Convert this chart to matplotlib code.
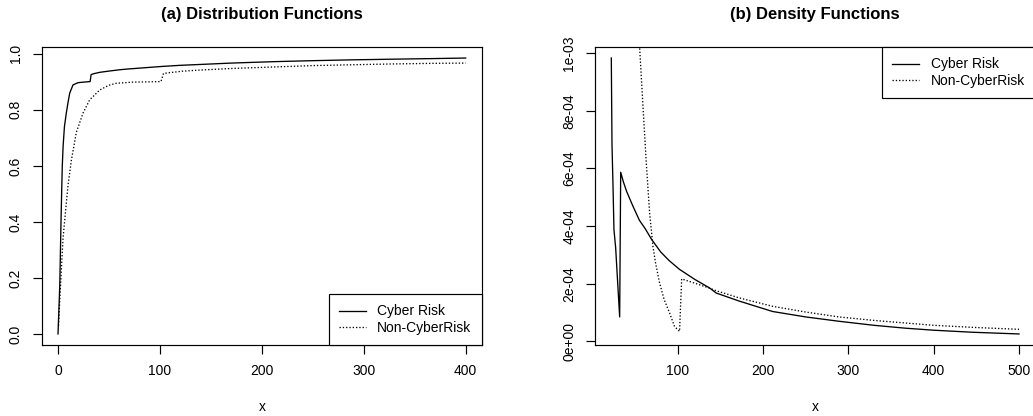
import matplotlib
matplotlib.use('Agg')
import matplotlib.pyplot as plt
from matplotlib.lines import Line2D

plt.rcParams['font.family'] = ['Liberation Sans', 'DejaVu Sans']

# ---------------- data ----------------
series_names = ["Cyber Risk", "Non-CyberRisk"]

# (a) distribution functions
cdf_cyber_x = [0, 0.5, 1.0, 1.7, 2.3, 3.0, 3.6, 4.2, 5.0, 6.3, 8.2, 10.0, 11.5, 14.7,
               19.6, 25.0, 31.5, 32.5, 35.0, 41.0, 47.0, 60.0, 69.0, 80.0, 102.0,
               120.0, 139.0, 170.0, 211.0, 250.0, 289.0, 330.0, 367.0, 400.0]
cdf_cyber_y = [0.0, 0.05, 0.10, 0.17, 0.28, 0.41, 0.51, 0.60, 0.67, 0.74, 0.79, 0.83,
               0.86, 0.889, 0.897, 0.899, 0.901, 0.926, 0.929, 0.934, 0.937, 0.943,
               0.946, 0.949, 0.955, 0.959, 0.962, 0.967, 0.972, 0.9756, 0.9786,
               0.981, 0.983, 0.985]

cdf_noncyber_x = [0.5, 1.7, 3.3, 4.9, 7.2, 9.8, 13.1, 18.0, 24.5, 31.1, 40.9, 50.0,
                  57.3, 73.5, 90.0, 101.0, 103.5, 110.0, 122.0, 139.0, 172.0, 211.0,
                  250.0, 289.0, 330.0, 367.0, 400.0]
cdf_noncyber_y = [0.03, 0.12, 0.23, 0.34, 0.43, 0.53, 0.62, 0.72, 0.788, 0.836, 0.871,
                  0.888, 0.895, 0.899, 0.900, 0.901, 0.930, 0.933, 0.938, 0.942, 0.948,
                  0.953, 0.958, 0.961, 0.964, 0.966, 0.967]

# (b) density functions
pdf_cyber_x = [22.0, 22.8, 24.0, 25.1, 27.1, 31.8, 33.0, 36.0, 40.0, 47.4, 55.0, 62.0,
               69.0, 80.0, 90.0, 102.0, 120.0, 137.0, 145.0, 172.0, 211.0, 250.0,
               289.0, 330.0, 367.0, 400.0, 445.0, 500.0]
pdf_cyber_y = [9.83e-4, 6.84e-4, 5.39e-4, 3.88e-4, 3.25e-4, 0.85e-4, 5.87e-4, 5.55e-4,
               5.20e-4, 4.69e-4, 4.20e-4, 3.90e-4, 3.55e-4, 3.10e-4, 2.80e-4, 2.50e-4,
               2.15e-4, 1.86e-4, 1.68e-4, 1.40e-4, 1.04e-4, 0.85e-4, 0.70e-4, 0.56e-4,
               0.46e-4, 0.39e-4, 0.32e-4, 0.26e-4]

pdf_noncyber_x = [52.0, 55.2, 59.1, 63.0, 66.9, 70.8, 74.0, 78.6, 84.0, 90.3, 96.1,
                  102.0, 104.5, 120.0, 137.0, 145.0, 172.0, 211.0, 250.0, 289.0, 330.0,
                  367.0, 400.0, 445.0, 500.0]
pdf_noncyber_y = [11.9e-4, 10.2e-4, 8.17e-4, 6.20e-4, 4.46e-4, 3.30e-4, 2.70e-4,
                  2.03e-4, 1.45e-4, 0.99e-4, 0.52e-4, 0.35e-4, 2.17e-4, 2.02e-4,
                  1.85e-4, 1.76e-4, 1.51e-4, 1.22e-4, 1.02e-4, 0.85e-4, 0.73e-4,
                  0.64e-4, 0.56e-4, 0.49e-4, 0.42e-4]

cdf_xticks = [0, 100, 200, 300, 400]
cdf_yticks = [0.0, 0.2, 0.4, 0.6, 0.8, 1.0]
cdf_yticklabels = ["0.0", "0.2", "0.4", "0.6", "0.8", "1.0"]
pdf_xticks = [100, 200, 300, 400, 500]
pdf_yticks = [0.0, 2e-4, 4e-4, 6e-4, 8e-4, 1e-3]
pdf_yticklabels = ["0e+00", "2e-04", "4e-04", "6e-04", "8e-04", "1e-03"]

titles = ["(a) Distribution Functions", "(b) Density Functions"]

# ---------------- figure ----------------
W, H = 1033, 416
fig = plt.figure(figsize=(W / 100, H / 100), dpi=100)


def px_axes(l, t, r, b):
    return fig.add_axes([l / W, 1 - b / H, (r - l) / W, (b - t) / H])


ax1 = px_axes(41.7, 47, 482, 345)
ax2 = px_axes(595, 47, 1035.3, 345)

LW = 0.95
DOT = (0, (1, 1.5))


def r_lim(vals):
    lo, hi = min(vals), max(vals)
    d = (hi - lo) * 0.04
    return lo - d, hi + d


def style(ax, xticks, yticks, ylabels, title):
    for s in ax.spines.values():
        s.set_linewidth(0.85)
        s.set_color('black')
    ax.set_xticks(xticks)
    ax.set_xticklabels([str(t) for t in xticks])
    ax.set_yticks(yticks)
    ax.set_yticklabels(ylabels)
    ax.tick_params(direction='out', length=6.5, width=0.85, pad=7, labelsize=10,
                   colors='black')
    ax.tick_params(axis='y', labelrotation=90)
    for lbl in ax.get_yticklabels():
        lbl.set_va('center')
    ax.set_title(title, fontweight='bold', fontsize=12, pad=20)
    ax.set_xlabel('x', fontsize=10, labelpad=16)


# (a)
ax1.plot(cdf_cyber_x, cdf_cyber_y, color='black', lw=LW)
ax1.plot(cdf_noncyber_x, cdf_noncyber_y, color='black', lw=LW, linestyle=DOT)
ax1.set_xlim(*r_lim(cdf_cyber_x))
ax1.set_ylim(*r_lim(cdf_cyber_y))
style(ax1, cdf_xticks, cdf_yticks, cdf_yticklabels, titles[0])

# (b)
ax2.plot(pdf_cyber_x, pdf_cyber_y, color='black', lw=LW)
ax2.plot(pdf_noncyber_x, pdf_noncyber_y, color='black', lw=LW, linestyle=DOT)
ax2.set_xlim(*r_lim(pdf_cyber_x))
ax2.set_ylim(*r_lim(pdf_cyber_y))
style(ax2, pdf_xticks, pdf_yticks, pdf_yticklabels, titles[1])

handles = [Line2D([], [], color='black', lw=LW),
           Line2D([], [], color='black', lw=LW, linestyle=DOT)]
for ax, loc in ((ax1, 'lower right'), (ax2, 'upper right')):
    leg = ax.legend(handles, series_names, loc=loc, borderaxespad=0, fancybox=False,
                    edgecolor='black', framealpha=1, fontsize=10, handlelength=1.9,
                    handletextpad=0.85, labelspacing=0.15, borderpad=0.75)
    leg.get_frame().set_linewidth(0.85)

fig.savefig('out.png', dpi=100)
